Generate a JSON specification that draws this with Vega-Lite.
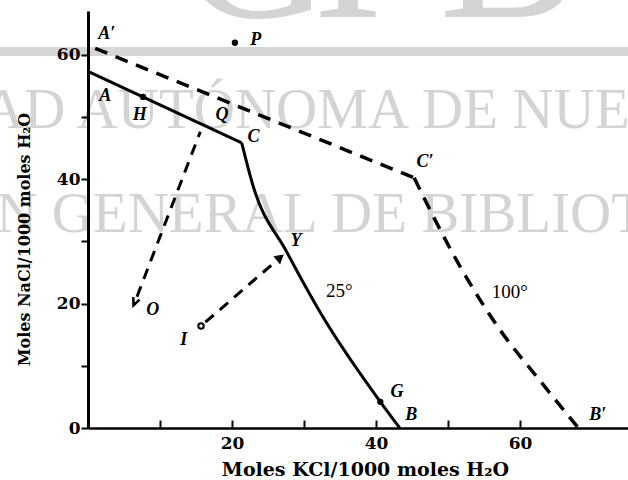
{
  "$schema": "https://vega.github.io/schema/vega-lite/v6.json",
  "width": 540,
  "height": 417,
  "autosize": {"type": "none"},
  "padding": {"left": 88, "top": 11, "right": 0, "bottom": 52},
  "background": "white",
  "config": {"view": {"stroke": null}, "axis": {"grid": false}},
  "datasets": {
    "bigLetters": [
      {"text": "G", "x": 23.2, "y": 66.1},
      {"text": "I", "x": 36.1, "y": 66.1},
      {"text": "B", "x": 58.5, "y": 66.1}
    ],
    "band": [{"x": -13, "x2": 76, "y": 60.5}],
    "stampRight": [
      {"text": "UNIVERSIDAD AUTÓNOMA", "x": 44.6, "y": 48.2},
      {"text": "DIRECCIÓN GENERAL", "x": 31.9, "y": 31.5}
    ],
    "stampLeft": [
      {"text": "DE NUEVO LEÓN", "x": 46.4, "y": 48.2},
      {"text": "DE BIBLIOTECAS", "x": 33.75, "y": 31.5}
    ],
    "isotherm25Upper": [
      {"x": 0, "y": 57.3},
      {"x": 21.35, "y": 45.8}
    ],
    "isotherm25Lower": [
      {"x": 21.35, "y": 45.8},
      {"x": 22.9, "y": 39.0},
      {"x": 27.6, "y": 28.3},
      {"x": 32.6, "y": 17.9},
      {"x": 40.6, "y": 4.2},
      {"x": 43.3, "y": 0}
    ],
    "isotherm100Upper": [
      {"x": 1.0, "y": 61.0},
      {"x": 45.3, "y": 40.2}
    ],
    "isotherm100Lower": [
      {"x": 45.3, "y": 40.2},
      {"x": 48.4, "y": 33.0},
      {"x": 51.7, "y": 25.9},
      {"x": 57.2, "y": 15.8},
      {"x": 62.5, "y": 8.0},
      {"x": 68.1, "y": 0}
    ],
    "tielines": [
      {"path": "OQ", "x": 6.8, "y": 21.1},
      {"path": "OQ", "x": 15.6, "y": 47.6},
      {"path": "IY", "x": 16.3, "y": 17.0},
      {"path": "IY", "x": 26.9, "y": 27.6}
    ],
    "dots": [
      {"name": "P", "x": 20.4, "y": 61.9},
      {"name": "G", "x": 40.6, "y": 4.2},
      {"name": "H", "x": 7.64, "y": 53.2}
    ],
    "arrowY": [{"x": 26.7, "y": 27.4}],
    "arrowO": [{"x": 6.5, "y": 20.2}],
    "startI": [{"x": 15.7, "y": 16.4}],
    "letters": [
      {"label": "A′", "x": 2.6, "y": 63.3},
      {"label": "P", "x": 23.3, "y": 62.4},
      {"label": "A", "x": 2.4, "y": 53.3},
      {"label": "H", "x": 7.2, "y": 50.3},
      {"label": "Q", "x": 18.6, "y": 50.3},
      {"label": "C", "x": 23.0, "y": 46.8},
      {"label": "C′", "x": 46.8, "y": 42.8},
      {"label": "Y", "x": 28.9, "y": 30.1},
      {"label": "G", "x": 42.9, "y": 5.8},
      {"label": "B", "x": 44.9, "y": 2.1},
      {"label": "B′", "x": 70.8, "y": 2.1},
      {"label": "O", "x": 9.0, "y": 19.0},
      {"label": "I", "x": 13.3, "y": 14.2}
    ],
    "temps": [
      {"label": "25°", "x": 34.9, "y": 22.0},
      {"label": "100°", "x": 58.6, "y": 21.9}
    ]
  },
  "layer": [
    {
      "data": {"name": "bigLetters"},
      "mark": {"type": "text", "font": "Liberation Serif", "fontSize": 210, "align": "center", "baseline": "alphabetic", "color": "#d4d4d4"},
      "encoding": {
        "x": {
          "field": "x", "type": "quantitative",
          "scale": {"domain": [0, 75], "nice": false, "zero": false},
          "axis": {
            "values": [0, 10, 20, 30, 40, 50, 60],
            "labelExpr": "datum.value % 20 === 0 && datum.value > 0 ? datum.label : ''",
            "domainColor": "black", "domainWidth": 2.5,
            "tickColor": "black", "tickWidth": 2, "tickSize": -8,
            "labelPadding": 15, "labelFont": "DejaVu Serif", "labelFontWeight": "bold", "labelFontSize": 17, "labelColor": "black",
            "title": "Moles KCl/1000 moles H₂O",
            "titleFont": "DejaVu Serif", "titleFontWeight": "bold", "titleFontSize": 19, "titleColor": "black",
            "titleAlign": "center", "titleBaseline": "middle", "titleX": 277, "titleY": 41,
            "zindex": 1
          }
        },
        "y": {
          "field": "y", "type": "quantitative",
          "scale": {"domain": [0, 67], "nice": false, "zero": false},
          "axis": {
            "values": [0, 10, 20, 30, 40, 50, 60],
            "labelExpr": "datum.value % 20 === 0 ? datum.label : ''",
            "domainColor": "black", "domainWidth": 3,
            "tickColor": "black", "tickWidth": 2, "tickSize": 7,
            "labelPadding": 1, "labelFont": "DejaVu Serif", "labelFontWeight": "bold", "labelFontSize": 17, "labelColor": "black",
            "title": "Moles NaCl/1000 moles H₂O",
            "titleFont": "DejaVu Serif", "titleFontWeight": "bold", "titleFontSize": 16, "titleColor": "black",
            "titleAngle": -90, "titleAlign": "center", "titleBaseline": "middle", "titleX": -64, "titleY": 228,
            "zindex": 1
          }
        },
        "text": {"field": "text"}
      }
    },
    {
      "data": {"name": "band"},
      "mark": {"type": "rule", "color": "#d6d6d6", "strokeWidth": 9},
      "encoding": {
        "x": {"field": "x", "type": "quantitative"},
        "x2": {"field": "x2"},
        "y": {"field": "y", "type": "quantitative"}
      }
    },
    {
      "data": {"name": "stampRight"},
      "mark": {"type": "text", "font": "Liberation Serif", "fontSize": 57, "align": "right", "baseline": "alphabetic", "color": "#d4d4d4"},
      "encoding": {
        "x": {"field": "x", "type": "quantitative"},
        "y": {"field": "y", "type": "quantitative"},
        "text": {"field": "text"}
      }
    },
    {
      "data": {"name": "stampLeft"},
      "mark": {"type": "text", "font": "Liberation Serif", "fontSize": 57, "align": "left", "baseline": "alphabetic", "color": "#d4d4d4"},
      "encoding": {
        "x": {"field": "x", "type": "quantitative"},
        "y": {"field": "y", "type": "quantitative"},
        "text": {"field": "text"}
      }
    },
    {
      "data": {"name": "isotherm25Upper"},
      "mark": {"type": "line", "color": "black", "strokeWidth": 3},
      "encoding": {
        "x": {"field": "x", "type": "quantitative"},
        "y": {"field": "y", "type": "quantitative"}
      }
    },
    {
      "data": {"name": "isotherm25Lower"},
      "mark": {"type": "line", "color": "black", "strokeWidth": 3, "interpolate": "monotone"},
      "encoding": {
        "x": {"field": "x", "type": "quantitative"},
        "y": {"field": "y", "type": "quantitative"}
      }
    },
    {
      "data": {"name": "isotherm100Upper"},
      "mark": {"type": "line", "color": "black", "strokeWidth": 3.5, "strokeDash": [13, 9]},
      "encoding": {
        "x": {"field": "x", "type": "quantitative"},
        "y": {"field": "y", "type": "quantitative"}
      }
    },
    {
      "data": {"name": "isotherm100Lower"},
      "mark": {"type": "line", "color": "black", "strokeWidth": 3.5, "strokeDash": [13, 9], "interpolate": "monotone"},
      "encoding": {
        "x": {"field": "x", "type": "quantitative"},
        "y": {"field": "y", "type": "quantitative"}
      }
    },
    {
      "data": {"name": "tielines"},
      "mark": {"type": "line", "color": "black", "strokeWidth": 3, "strokeDash": [11, 8]},
      "encoding": {
        "x": {"field": "x", "type": "quantitative"},
        "y": {"field": "y", "type": "quantitative"},
        "detail": {"field": "path"}
      }
    },
    {
      "data": {"name": "dots"},
      "mark": {"type": "point", "filled": true, "color": "black", "size": 40, "opacity": 1},
      "encoding": {
        "x": {"field": "x", "type": "quantitative"},
        "y": {"field": "y", "type": "quantitative"}
      }
    },
    {
      "data": {"name": "arrowY"},
      "mark": {"type": "point", "shape": "triangle-right", "filled": true, "color": "black", "size": 110, "angle": 320, "opacity": 1},
      "encoding": {
        "x": {"field": "x", "type": "quantitative"},
        "y": {"field": "y", "type": "quantitative"}
      }
    },
    {
      "data": {"name": "arrowO"},
      "mark": {"type": "point", "shape": "M-0.8,-1L0,0.8L0.8,-1", "filled": false, "color": "black", "strokeWidth": 2.5, "size": 70, "angle": 22, "opacity": 1},
      "encoding": {
        "x": {"field": "x", "type": "quantitative"},
        "y": {"field": "y", "type": "quantitative"}
      }
    },
    {
      "data": {"name": "startI"},
      "mark": {"type": "point", "shape": "circle", "filled": false, "color": "black", "strokeWidth": 2, "size": 30, "opacity": 1},
      "encoding": {
        "x": {"field": "x", "type": "quantitative"},
        "y": {"field": "y", "type": "quantitative"}
      }
    },
    {
      "data": {"name": "letters"},
      "mark": {"type": "text", "font": "Liberation Serif", "fontStyle": "italic", "fontWeight": "bold", "fontSize": 18, "align": "center", "baseline": "middle", "color": "black"},
      "encoding": {
        "x": {"field": "x", "type": "quantitative"},
        "y": {"field": "y", "type": "quantitative"},
        "text": {"field": "label"}
      }
    },
    {
      "data": {"name": "temps"},
      "mark": {"type": "text", "font": "Liberation Serif", "fontSize": 19, "align": "center", "baseline": "middle", "color": "black"},
      "encoding": {
        "x": {"field": "x", "type": "quantitative"},
        "y": {"field": "y", "type": "quantitative"},
        "text": {"field": "label"}
      }
    }
  ]
}
